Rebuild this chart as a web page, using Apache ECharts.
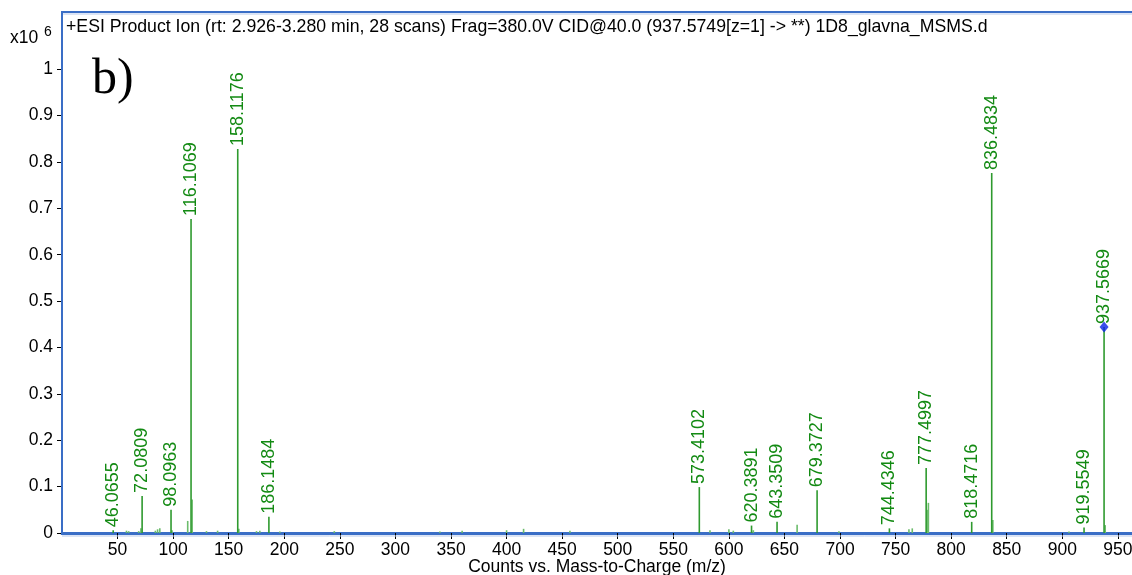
<!DOCTYPE html>
<html>
<head>
<meta charset="utf-8">
<script src="https://cdn.jsdelivr.net/npm/echarts@6/dist/echarts.min.js"></script>
<style>
html,body{margin:0;padding:0;background:#fff;}
#chart{width:1132px;height:575px;}
</style>
</head>
<body>
<div id="chart"></div>
<script>
// Labelled peaks (m/z, intensity x10^6)
var labeledMz = [46.0655, 72.0809, 98.0963, 116.1069, 158.1176, 186.1484, 573.4102, 620.3891, 643.3509, 679.3727, 744.4346, 777.4997, 818.4716, 836.4834, 919.5549, 937.5669];
var labeledInt = [0.006, 0.080, 0.050, 0.677, 0.828, 0.035, 0.099, 0.016, 0.024, 0.092, 0.010, 0.140, 0.024, 0.776, 0.012, 0.444];
// Minor unlabelled peaks
var minorMz = [58, 60, 69, 71, 84, 86, 88, 99, 113.1, 117.1, 130, 140, 159.1, 175, 178, 196, 245, 340, 360, 400, 415.3, 457, 583, 600, 604, 622, 661.4, 699, 762, 765, 778.5, 779.5, 837.5, 906, 938.6];
var minorInt = [0.005, 0.004, 0.004, 0.010, 0.005, 0.008, 0.010, 0.006, 0.026, 0.072, 0.004, 0.005, 0.009, 0.004, 0.005, 0.003, 0.004, 0.003, 0.005, 0.006, 0.009, 0.005, 0.006, 0.008, 0.005, 0.006, 0.018, 0.004, 0.008, 0.010, 0.050, 0.065, 0.028, 0.003, 0.017];
// Precursor marker
var precursorMz = [937.5669];
var precursorInt = [0.444];
// Tick labels
var xTicks = [50,100,150,200,250,300,350,400,450,500,550,600,650,700,750,800,850,900,950];
var yTicks = [0,0.1,0.2,0.3,0.4,0.5,0.6,0.7,0.8,0.9,1];

var FONT = 'Liberation Sans, Arial, sans-serif';
var LINE_GREEN = '#2f9a2f';
var MINOR_GREEN = '#6cbc6c';
var LABEL_GREEN = '#138a13';
var BLUE = '#3a6ec6';

var barData = [];
for (var i = 0; i < minorMz.length; i++) {
  barData.push({value: [minorMz[i], minorInt[i]], itemStyle: {color: MINOR_GREEN}, label: {show: false}});
}
for (var j = 0; j < labeledMz.length; j++) {
  barData.push({value: [labeledMz[j], labeledInt[j]], itemStyle: {color: LINE_GREEN}, label: {show: true, formatter: labeledMz[j].toFixed(4)}});
}
var precData = precursorMz.map(function (m, k) { return [m, precursorInt[k]]; });

var chart = echarts.init(document.getElementById('chart'), null, {renderer: 'canvas'});
chart.setOption({
  animation: false,
  backgroundColor: '#fff',
  grid: {left: 62, right: 0, top: 46, bottom: 42, containLabel: false, outerBoundsMode: 'none'},
  xAxis: {
    type: 'value', min: 0, max: 962.7,
    axisLine: {show: true, lineStyle: {color: BLUE, width: 3}},
    axisTick: {show: true, length: 6, lineStyle: {color: '#000', width: 1}, customValues: xTicks},
    axisLabel: {show: true, customValues: xTicks, color: '#000', fontSize: 17.5, fontFamily: FONT, margin: 8},
    splitLine: {show: false},
    name: 'Counts vs. Mass-to-Charge (m/z)', nameLocation: 'middle', nameGap: 25, nameMoveOverlap: false,
    nameTextStyle: {color: '#000', fontSize: 17.5, fontFamily: FONT, lineHeight: 18}
  },
  yAxis: {
    type: 'value', min: 0, max: 1.05, offset: 2,
    axisLine: {show: true, lineStyle: {color: '#000', width: 1}},
    axisTick: {show: true, length: 5, lineStyle: {color: '#000'}, customValues: yTicks},
    axisLabel: {show: true, customValues: yTicks, color: '#000', fontSize: 17.5, fontFamily: FONT, margin: 7,
      formatter: function (v) { return String(+(+v).toFixed(1)); }},
    splitLine: {show: false}
  },
  series: [
    {
      type: 'bar', data: barData, barWidth: 1.6, barGap: '-100%',
      label: {position: 'top', rotate: 90, align: 'left', verticalAlign: 'middle', distance: 3,
        color: LABEL_GREEN, fontSize: 18, fontFamily: FONT},
      z: 2
    },
    {
      type: 'scatter', data: precData, symbol: 'diamond', symbolSize: [9, 11],
      itemStyle: {color: '#0a22e6'}, z: 5
    }
  ],
  graphic: [
    {type: 'line', shape: {x1: 62, y1: 12, x2: 1132, y2: 12}, style: {stroke: BLUE, lineWidth: 2}, z: 10},
    {type: 'line', shape: {x1: 63, y1: 14, x2: 1132, y2: 14}, style: {stroke: '#b7c9ea', lineWidth: 1}, z: 10},
    {type: 'line', shape: {x1: 62, y1: 11, x2: 62, y2: 535}, style: {stroke: BLUE, lineWidth: 2}, z: 10},
    {type: 'line', shape: {x1: 62, y1: 536, x2: 1132, y2: 536}, style: {stroke: '#b7c9ea', lineWidth: 1}, z: 10},
    {type: 'text', left: 66, top: 18, style: {text: '+ESI Product Ion (rt: 2.926-3.280 min, 28 scans) Frag=380.0V CID@40.0 (937.5749[z=1] -> **) 1D8_glavna_MSMS.d', fill: '#000', font: '17.7px ' + FONT}},
    {type: 'text', left: 10, top: 29, style: {text: 'x10', fill: '#000', font: '17.5px ' + FONT}},
    {type: 'text', left: 44, top: 25, style: {text: '6', fill: '#000', font: '14px ' + FONT}},
    {type: 'text', left: 92, top: 55, style: {text: 'b)', fill: '#000', font: '50px Liberation Serif, Times New Roman, serif'}}
  ]
});
</script>
</body>
</html>
